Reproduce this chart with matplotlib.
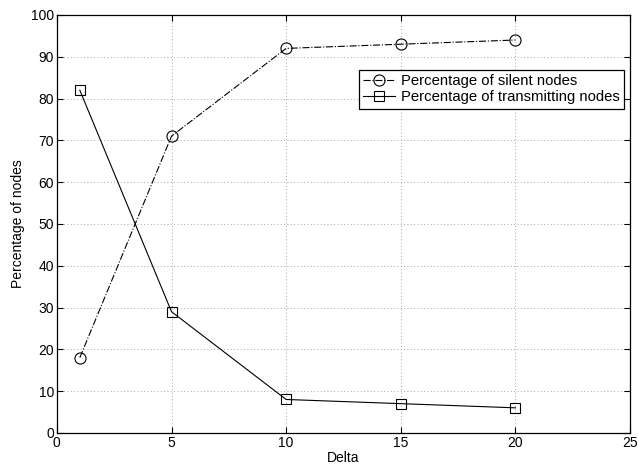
"""
Percentage of silent vs transmitting nodes as a function of Delta.
"""
import matplotlib
matplotlib.use("Agg")
from matplotlib import pyplot as plt

delta = [1, 5, 10, 15, 20]
silent_pct = [18, 71, 92, 93, 94]
transmitting_pct = [82, 29, 8, 7, 6]

plt.rcParams["font.family"] = ["Liberation Sans", "DejaVu Sans"]
plt.rcParams["font.size"] = 10

fig = plt.figure(figsize=(6.39, 4.67), dpi=100)
axis = fig.add_subplot(111)

axis.plot(delta, silent_pct, linestyle="-.", color="black", linewidth=0.8,
          marker="o", markersize=8, markerfacecolor="none", markeredgewidth=0.8,
          label="Percentage of silent nodes")
axis.plot(delta, transmitting_pct, linestyle="-", color="black", linewidth=0.8,
          marker="s", markersize=7, markerfacecolor="none", markeredgewidth=0.8,
          label="Percentage of transmitting nodes")

axis.set_xlim(0, 25)
axis.set_ylim(0, 100)
axis.set_xticks(range(0, 26, 5))
axis.set_yticks(range(0, 101, 10))
axis.set_xlabel("Delta", labelpad=1)
axis.set_ylabel("Percentage of nodes", labelpad=4)
axis.grid(True, linestyle=(0, (1, 3)), color="#888888", linewidth=0.6)
axis.tick_params(direction="in", length=4, top=True, right=True, width=0.8, pad=2)
for spine in axis.spines.values():
    spine.set_linewidth(0.9)

leg = axis.legend(loc="upper right", bbox_to_anchor=(1.002, 0.887), fancybox=False,
                  framealpha=1, edgecolor="black", handlelength=2.1, borderpad=0.3,
                  labelspacing=0.15, handletextpad=0.4, fontsize=10.7)
leg.get_frame().set_linewidth(0.9)

plt.subplots_adjust(left=0.089, right=0.986, top=0.968, bottom=0.073)
plt.savefig("out.png", dpi=100)
